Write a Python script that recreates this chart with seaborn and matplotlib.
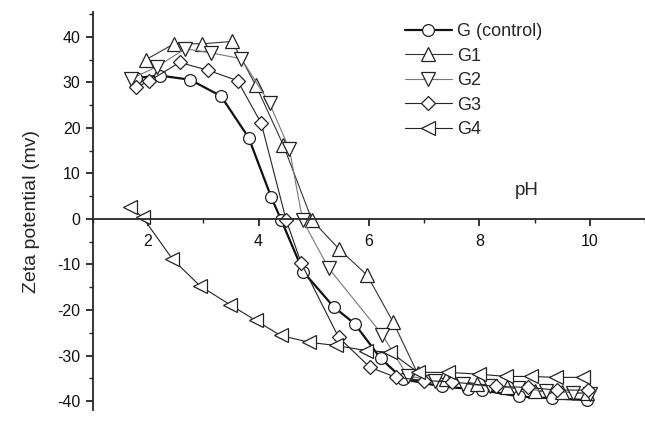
import numpy as np
import pandas as pd
import seaborn as sns
from matplotlib import pyplot as plt
from matplotlib.ticker import MultipleLocator

# values
g_ph = [1.78, 2.22, 2.76, 3.32, 3.82, 4.23, 4.41, 4.81, 5.36, 5.74, 6.21, 6.62, 7.32, 7.79, 8.05, 8.72, 9.31, 9.95]
g_zeta = [31.0, 31.5, 30.6, 27.0, 17.9, 4.8, -0.2, -11.6, -19.3, -23.0, -30.6, -35.2, -36.8, -37.3, -37.6, -39.0, -39.4, -39.8]

g1_ph = [1.96, 2.47, 2.98, 3.52, 3.95, 4.45, 4.97, 5.45, 5.97, 6.44, 6.88, 7.4, 7.95, 8.5, 9.0, 9.5, 9.95]
g1_zeta = [35.0, 38.5, 38.5, 39.0, 29.4, 16.2, -0.3, -6.5, -12.4, -22.7, -33.9, -35.2, -36.2, -37.0, -37.8, -38.0, -38.3]

g2_ph = [1.69, 2.17, 2.67, 3.14, 3.69, 4.2, 4.56, 4.8, 5.27, 6.24, 6.7, 7.2, 7.7, 8.2, 8.7, 9.2, 9.7, 10.0]
g2_zeta = [30.8, 33.5, 37.4, 36.5, 35.2, 25.4, 15.3, -0.3, -10.8, -25.4, -34.5, -35.5, -36.2, -36.8, -37.2, -37.8, -38.2, -38.5]

g3_ph = [1.78, 2.02, 2.57, 3.08, 3.62, 4.05, 4.5, 4.77, 5.45, 6.02, 6.49, 7.0, 7.5, 8.3, 8.88, 9.4, 9.97]
g3_zeta = [28.9, 30.3, 34.4, 32.7, 30.4, 21.0, -0.2, -9.6, -26.0, -32.6, -34.8, -35.5, -35.8, -36.8, -37.0, -37.6, -37.6]

g4_ph = [1.67, 1.9, 2.44, 2.94, 3.48, 3.95, 4.4, 4.92, 5.4, 5.94, 6.39, 6.89, 7.43, 8.0, 8.48, 8.93, 9.38, 9.88]
g4_zeta = [2.6, 0.4, -8.8, -14.7, -18.8, -22.3, -25.6, -27.1, -27.8, -28.9, -29.3, -33.7, -33.7, -34.1, -34.6, -34.6, -34.8, -34.8]

names = ["G (control)", "G1", "G2", "G3", "G4"]
series = [(g_ph, g_zeta), (g1_ph, g1_zeta), (g2_ph, g2_zeta), (g3_ph, g3_zeta), (g4_ph, g4_zeta)]
markers = ["o", "^", "v", "D", "<"]
colors = ["#111111", "#333333", "#777777", "#222222", "#222222"]
widths = [1.6, 0.8, 0.8, 0.8, 0.8]
msizes = [8.5, 9.5, 9.5, 7, 9.5]

sns.set_style("ticks")
plt.rcParams['font.family'] = ['Liberation Sans', 'DejaVu Sans']
plt.rcParams['axes.unicode_minus'] = False

fig = plt.figure(figsize=(6.45, 4.25), dpi=100)
ax = fig.add_axes([0.144, 0.035, 0.856, 0.937])

for name, (xs, ys), m, c, lw, ms in zip(names, series, markers, colors, widths, msizes):
    df = pd.DataFrame({"pH": xs, "zeta": ys})
    sns.lineplot(data=df, x="pH", y="zeta", ax=ax, sort=False, label=name,
                 color=c, linewidth=lw, marker=m, markersize=ms,
                 markerfacecolor="white", markeredgecolor="#222222", markeredgewidth=0.9)

ax.set_xlim(1, 11)
ax.set_ylim(-42, 45.5)
ax.set_xticks([2, 4, 6, 8, 10])
ax.xaxis.set_minor_locator(MultipleLocator(1))
ax.set_yticks([-40, -30, -20, -10, 0, 10, 20, 30, 40])
ax.yaxis.set_minor_locator(MultipleLocator(5))

ax.spines['top'].set_visible(False)
ax.spines['right'].set_visible(False)
ax.spines['bottom'].set_position(('data', 0))
ax.spines['left'].set_linewidth(1.3)
ax.spines['bottom'].set_linewidth(1.3)
ax.tick_params(axis='both', which='major', direction='out', length=5, width=1.2,
               labelsize=11.5, colors='#111111', pad=4)
ax.tick_params(axis='x', which='major', pad=6)
ax.tick_params(axis='both', which='minor', direction='out', length=3, width=1.0)

ax.set_xlabel("")
ax.set_ylabel("Zeta potential (mv)", fontsize=14, labelpad=12)
ax.text(8.86, 6.3, "pH", fontsize=13.5, ha='center', va='center')

ax.legend(frameon=False, loc='upper left', bbox_to_anchor=(405 / 645, 1 - 23 / 425),
          bbox_transform=fig.transFigure, fontsize=13, handlelength=2.6,
          handletextpad=0.3, labelspacing=0.42, borderaxespad=0, borderpad=0)

fig.savefig("out.png", dpi=100)
plt.close()
